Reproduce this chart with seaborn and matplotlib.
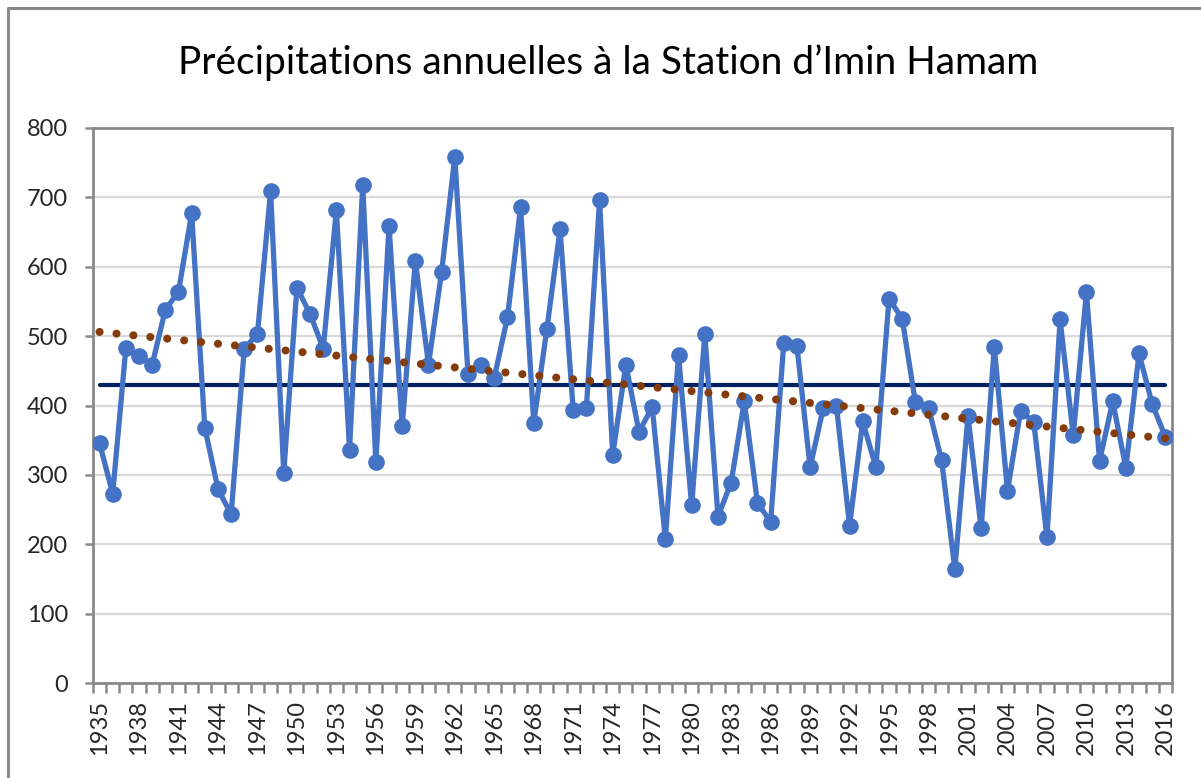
import numpy as np
import pandas as pd
import matplotlib
matplotlib.use("Agg")
import matplotlib.pyplot as plt
from matplotlib.lines import Line2D
import seaborn as sns

# Annual precipitation (mm)
years = list(range(1935, 2017))
precip = [
	346, 273, 483, 472, 459, 538, 564, 677, 368, 280,
	243, 482, 503, 709, 303, 570, 532, 482, 682, 336,
	718, 318, 659, 370, 609, 459, 593, 758, 446, 458,
	440, 527, 686, 375, 511, 654, 393, 397, 696, 329,
	459, 362, 398, 207, 473, 256, 503, 240, 289, 406,
	260, 232, 490, 486, 311, 396, 400, 227, 377, 311,
	554, 525, 405, 397, 321, 164, 385, 223, 485, 277,
	392, 376, 210, 524, 357, 563, 320, 406, 310, 475,
	402, 355,
]
tick_years = list(range(1935, 2017, 3))
y_ticks = [0, 100, 200, 300, 400, 500, 600, 700, 800]
title = "Précipitations annuelles à la Station d’Imin Hamam"

df = pd.DataFrame({"year": years, "precip": precip})

sns.set_style("white")
plt.rcParams["font.family"] = ["Lato", "DejaVu Sans"]

fig = plt.figure(figsize=(12.01, 7.78), dpi=100)
ax = fig.add_axes([0.0774, 0.122, 0.9758 - 0.0774, 0.8355 - 0.122])

grey = "#898989"

# horizontal gridlines
for v in y_ticks[1:]:
	ax.axhline(v, color="#d9d9d9", lw=1.6, zorder=0)

# mean line
mean_val = df["precip"].mean()
ax.plot([years[0], years[-1]], [mean_val, mean_val], color="#002060", lw=3.0, zorder=2)

# linear trend line
slope, intercept = np.polyfit(df["year"], df["precip"], 1)
trend = slope * df["year"] + intercept
ax.plot(df["year"], trend, color="#843c0c", lw=5.8, linestyle=(0, (0.01, 2.1)),
	dash_capstyle="round", zorder=4)

# main series
sns.lineplot(data=df, x="year", y="precip", ax=ax, color="#4472c4", lw=3.8,
	marker="o", markersize=12, markeredgewidth=0, zorder=3)

ax.set_xlim(1934.5, 2016.5)
ax.set_ylim(0, 800)
ax.set_yticks(y_ticks)
ax.set_yticklabels([str(v) for v in y_ticks], fontsize=17, color="#262626")
ax.set_xticks(tick_years)
ax.set_xticklabels([str(y) for y in tick_years], rotation=90, fontsize=17, color="#262626")
ax.set_xticks(np.arange(1934.5, 2017, 1), minor=True)
ax.tick_params(axis="x", which="major", length=0, pad=12)
ax.tick_params(axis="x", which="minor", length=7, width=1.8, color=grey, direction="out", bottom=True)
ax.tick_params(axis="y", length=6, width=1.8, color=grey, direction="out", left=True, pad=12)
ax.set_xlabel("")
ax.set_ylabel("")

for side in ["left", "right", "top", "bottom"]:
	ax.spines[side].set_visible(True)
	ax.spines[side].set_color(grey)
	ax.spines[side].set_linewidth(2.0)

fig.text(0.506, 0.92, title, ha="center", va="center", fontsize=28, color="#000000")

# outer chart border (cut off at right and bottom)
fig.add_artist(Line2D([0.0067, 0.0067], [0, 0.9897], color=grey, lw=2.2))
fig.add_artist(Line2D([0.0067, 1.0], [0.9897, 0.9897], color=grey, lw=2.2))

fig.savefig("out.png", dpi=100)
